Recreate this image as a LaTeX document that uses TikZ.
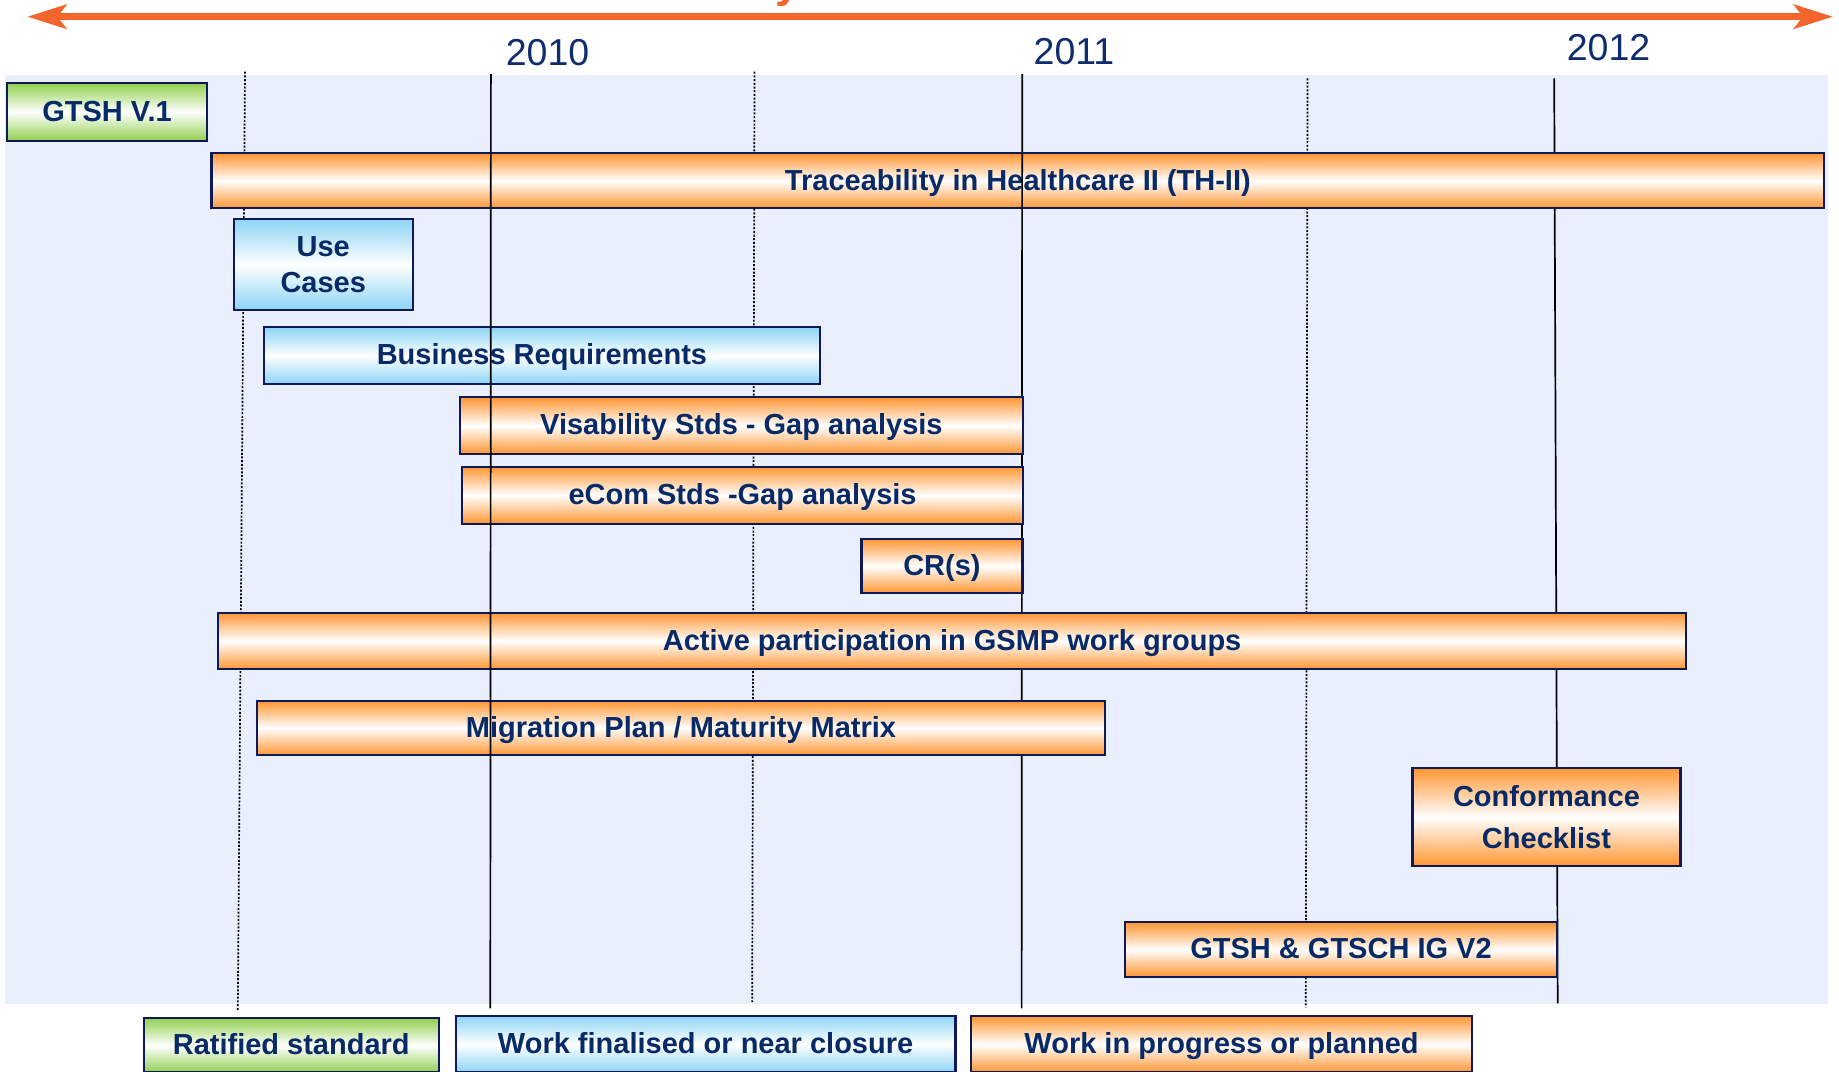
\documentclass[tikz,border=0pt]{standalone}
\usepackage{fontspec}
\setmainfont{Liberation Sans}
\usetikzlibrary{arrows.meta}
\definecolor{bordercol}{RGB}{15,25,90}
\definecolor{txtcol}{RGB}{8,42,102}
\definecolor{yearcol}{RGB}{15,45,110}
\definecolor{orng}{RGB}{255,150,50}
\definecolor{lblue}{RGB}{140,212,245}
\definecolor{lgreen}{RGB}{146,208,80}
\definecolor{panelcol}{RGB}{233,239,252}
\definecolor{arrowcol}{RGB}{242,101,45}
\tikzset{
  barbase/.style={draw=bordercol, line width=2.2pt, inner sep=0pt, outer sep=0pt,
    text=txtcol, font=\fontsize{29}{35}\selectfont\bfseries},
  oneline/.style={text height=21pt, text depth=2.6pt},
  orangebar/.style={barbase, top color=orng, bottom color=orng, middle color=white},
  bluebar/.style={barbase, top color=lblue, bottom color=lblue, middle color=white},
  greenbar/.style={barbase, top color=lgreen, bottom color=lgreen, middle color=white},
  solidline/.style={draw=black, line width=1.7pt},
  dottedline/.style={draw=black, line width=1.7pt, dash pattern=on 2pt off 1.7pt},
  yearlbl/.style={inner sep=0pt, text=yearcol, font=\fontsize{37.5}{40}\selectfont},
  timearrow/.style={draw=arrowcol, line width=7.3pt,
    {Stealth[length=39pt,width=24pt,inset=9pt]}-{Stealth[length=39pt,width=24pt,inset=9pt]}},
}
\begin{document}
\begin{tikzpicture}[x=1pt,y=-1pt]
\useasboundingbox (0,0) rectangle (1839,1071);
% background panel
\fill[panelcol] (5,75) rectangle (1828,1004);

% title fragment (cut off at top)
\node[anchor=base west, inner sep=0pt, text=arrowcol, font=\fontsize{44}{44}\selectfont\bfseries] (titlefrag) at (775,-2.5) {y};

% time arrow
\coordinate (arrL) at (27.3,16.7);
\coordinate (arrR) at (1833,16.7);
\draw[timearrow] (arrL) -- (arrR);

% year labels
\node[yearlbl] (y2010) at (547.6,52.7) {2010};
\node[yearlbl] (y2011) at (1074,51.7) {2011};
\node[yearlbl] (y2012) at (1608.5,47.7) {2012};

% vertical guide lines (behind boxes)
\coordinate (dAt) at (245,71.7);   \coordinate (dAb) at (237.8,1010);
\coordinate (s10t) at (490.9,74);  \coordinate (s10b) at (490.3,1008.3);
\coordinate (dBt) at (754.5,71.7); \coordinate (dBb) at (752.2,1002);
\coordinate (s11t) at (1022.2,74); \coordinate (s11b) at (1021.6,1008.3);
\coordinate (dCt) at (1307.5,78.3);\coordinate (dCb) at (1305.8,1007.3);
\coordinate (s12t) at (1554.2,78.3);\coordinate (s12b) at (1557.7,1003.3);
\draw[dottedline] (dAt) -- (dAb);
\draw[dottedline] (dBt) -- (dBb);
\draw[dottedline] (dCt) -- (dCb);
\draw[solidline] (s11t) -- (s11b);
\draw[solidline] (s12t) -- (s12b);

% bars
\node[greenbar, oneline, minimum width=199.4pt, minimum height=57.4pt] (gtsh) at (107,112) {GTSH V.1};
\node[orangebar, oneline, minimum width=1612.9pt, minimum height=55pt] (th) at (1017.85,180.8) {Traceability in Healthcare II (TH-II)};
\node[bluebar, minimum width=179.1pt, minimum height=91pt, align=center, font=\fontsize{29}{36.6}\selectfont\bfseries] (uc) at (323.25,264.5) {Use\\Cases};
\node[bluebar, oneline, minimum width=556.7pt, minimum height=56.7pt] (br) at (541.95,355.65) {Business Requirements};
\node[orangebar, oneline, minimum width=563.2pt, minimum height=56.7pt] (vis) at (741.4,425.65) {Visability Stds - Gap analysis};
\node[orangebar, oneline, minimum width=560.9pt, minimum height=57pt] (ecom) at (742.55,495.2) {eCom Stds -Gap analysis};
\node[orangebar, oneline, minimum width=161.1pt, minimum height=54.5pt] (cr) at (941.95,565.95) {CR(s)};
\node[orangebar, oneline, minimum width=1468.4pt, minimum height=56.6pt] (act) at (952.1,641) {Active participation in GSMP work groups};
\node[orangebar, oneline, minimum width=848pt, minimum height=54.5pt] (mig) at (681,727.95) {Migration Plan / Maturity Matrix};
\node[orangebar, minimum width=267.9pt, minimum height=98.3pt, align=center, font=\fontsize{29}{42.4}\selectfont\bfseries] (conf) at (1546.45,817) {Conformance\\Checklist};
\node[orangebar, oneline, minimum width=432.2pt, minimum height=54.4pt] (ig) at (1341,949.5) {GTSH \& GTSCH IG V2};

% legend
\node[greenbar, oneline, minimum width=294.7pt, minimum height=54.2pt] (leg1) at (291.25,1045.4) {Ratified standard};
\node[bluebar, oneline, minimum width=499.8pt, minimum height=56.8pt] (leg2) at (705.6,1044.1) {Work finalised or near closure};
\node[orangebar, oneline, minimum width=500.9pt, minimum height=56.5pt] (leg3) at (1221.55,1044.25) {Work in progress or planned};

% lines drawn in front of bars
\draw[solidline] (s10t) -- (s10b);
\begin{scope}
  \clip (th.north west) rectangle (th.south east);
  \draw[solidline] (s11t) -- (s11b);
\end{scope}
\end{tikzpicture}
\end{document}
